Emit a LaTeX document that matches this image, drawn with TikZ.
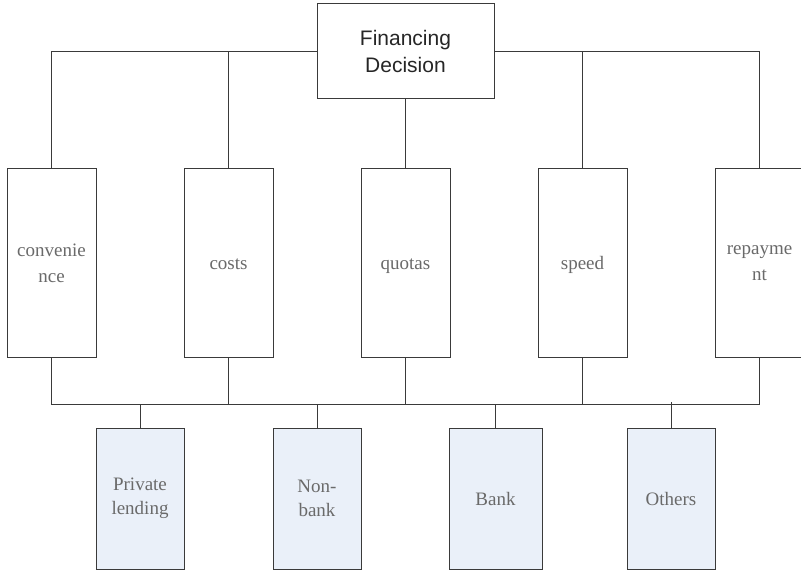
\documentclass[tikz,border=0pt]{standalone}
\usepackage{fontspec}
\setmainfont{Liberation Serif}
\newfontfamily\arialf{Liberation Sans}
\definecolor{linec}{HTML}{3A3A3A}
\definecolor{txtg}{HTML}{6A6A6A}
\definecolor{boxfill}{HTML}{EAF0F9}
\begin{document}
\begin{tikzpicture}[x=1pt,y=-1pt,
  conn/.style={draw=linec,line width=1pt},
  topbox/.style={draw=linec,line width=1pt,fill=white,minimum width=177pt,minimum height=95pt,inner sep=0pt,align=center,font=\arialf\fontsize{21}{27}\selectfont,text=black!85},
  midbox/.style={draw=linec,line width=1pt,fill=white,minimum width=89pt,minimum height=188pt,inner sep=0pt,align=center,font=\fontsize{19}{26}\selectfont,text=txtg},
  lowbox/.style={draw=linec,line width=1pt,fill=boxfill,minimum width=88pt,minimum height=141pt,inner sep=0pt,align=center,font=\fontsize{19}{24}\selectfont,text=txtg}]
\useasboundingbox (0,0) rectangle (801,572);
\node[topbox] (top) at (405.5,51.5) {Financing\\Decision};
\node[midbox] (conv) at (51.5,263) {convenie\\nce};
\node[midbox] (costs) at (228.5,263) {\raisebox{-7pt}[0pt][0pt]{costs}};
\node[midbox] (quot) at (405.5,263) {\raisebox{-7pt}[0pt][0pt]{quotas}};
\node[midbox] (speed) at (582.5,263) {\raisebox{-7pt}[0pt][0pt]{speed}};
\node[midbox] (rep) at (759.5,263) {repayme\\nt};
\node[lowbox] (pl) at (140,498.5) {Private\\lending};
\node[lowbox] (nb) at (317,498.5) {Non-\\bank};
\node[lowbox,minimum width=93pt] (bank) at (495.5,498.5) {Bank};
\node[lowbox] (oth) at (671,498.5) {Others};
\coordinate (bus) at (0,404);
\coordinate (busR) at (759.5,404);
\draw[conn] (top.west) -| (conv.north);
\draw[conn] (top.east) -| (rep.north);
\draw[conn] (costs.north) |- (top.west);
\draw[conn] (speed.north) |- (top.east);
\draw[conn] (top.south) -- (quot.north);
\draw[conn] (conv.south) |- (busR) -- (rep.south);
\draw[conn] (costs.south) -- (costs.south |- bus);
\draw[conn] (quot.south) -- (quot.south |- bus);
\draw[conn] (speed.south) -- (speed.south |- bus);
\draw[conn] (pl.north) -- (pl.north |- bus);
\draw[conn] (nb.north) -- (nb.north |- bus);
\draw[conn] (bank.north) -- (bank.north |- bus);
\draw[conn] (oth.north) -- ++(0,-26);
\end{tikzpicture}
\end{document}
